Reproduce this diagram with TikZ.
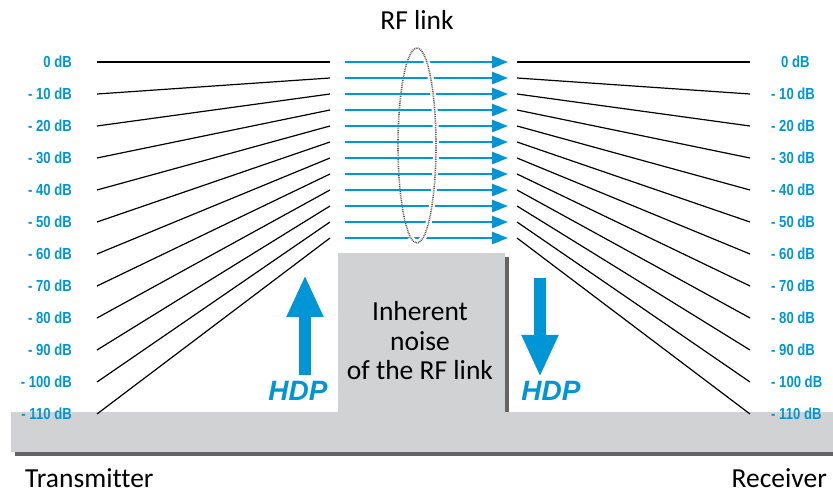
\documentclass[tikz,border=0pt]{standalone}
\usepackage{fontspec}
\setmainfont[Ligatures=NoCommon]{Carlito}
\newfontfamily\dbfont[FakeStretch=0.82]{Liberation Sans}
\newfontfamily\hdpfont{Liberation Sans}
\usetikzlibrary{arrows.meta,shadows,calc}
\definecolor{hblue}{RGB}{0,150,214}
\definecolor{boxgray}{RGB}{209,210,212}
\definecolor{shadowgray}{RGB}{100,100,102}
\definecolor{ringgray}{RGB}{90,90,90}
\tikzset{
  dblabel/.style={font=\dbfont\bfseries\fontsize{16}{16}\selectfont, text=hblue, inner sep=0pt},
  levelline/.style={line width=1.2pt, black},
  rfarrow/.style={hblue, line width=2.6pt, -{Triangle[length=16pt,width=12pt]}},
  bigarrow/.style={hblue, line width=12pt, -{Triangle[length=42pt,width=34pt]}},
  graybox/.style={fill=boxgray, draw=none, inner sep=0pt,
    drop shadow={shadow xshift=4pt, shadow yshift=-4pt, fill=shadowgray, opacity=1}},
  ring/.style={ringgray, line width=1.6pt, dash pattern=on 0.9pt off 0.9pt},
  halo/.style={white, line width=6pt},
  bigtext/.style={font=\fontsize{27.5}{29.5}\selectfont, inner sep=0pt},
  hdp/.style={font=\hdpfont\bfseries\itshape\fontsize{28}{28}\selectfont, text=hblue, inner sep=0pt},
}
\begin{document}
\begin{tikzpicture}[x=1pt,y=-1pt]
\useasboundingbox (0,0) rectangle (833,494);
% noise box and base
\node[graybox, minimum width=167pt, minimum height=159pt] (box) at (421.5,332.5) {};
\node[graybox, minimum width=824pt, minimum height=40pt] (base) at (423,432) {};
\node[bigtext, align=center] (noise) at (420,341) {Inherent\\noise\\of the RF link};
% ring back half
\draw[ring] (417,145.5) ellipse [x radius=19pt, y radius=97.5pt];
% levels
\foreach \i in {0,...,11} {
  \pgfmathsetmacro\yl{62+32*\i}
  \pgfmathsetmacro\ym{62+16*\i}
  \pgfmathtruncatemacro\v{10*\i}
  \ifnum\i=0
    \node[dblabel, anchor=east] (L\i) at (72,\yl) {0 dB};
    \node[dblabel, anchor=west] (R\i) at (781,\yl) {0 dB};
  \else
    \node[dblabel, anchor=east] (L\i) at (72,\yl) {- \v{} dB};
    \node[dblabel, anchor=west] (R\i) at (771,\yl) {- \v{} dB};
  \fi
  \coordinate (la\i) at (97,\yl);
  \coordinate (lb\i) at (330,\ym);
  \coordinate (ra\i) at (345,\ym);
  \coordinate (rb\i) at (508,\ym);
  \coordinate (sa\i) at (517,\ym);
  \coordinate (sb\i) at (750,\yl);
  \draw[levelline] (la\i) -- (lb\i);
  \draw[rfarrow] (ra\i) -- (rb\i);
  \draw[levelline] (sa\i) -- (sb\i);
}
% ring front half
\coordinate (ringstart) at ($(417,145.5)+(75:19pt and 97.5pt)$);
\draw[halo] (ringstart) arc[start angle=75, end angle=-110, x radius=19pt, y radius=97.5pt];
\draw[ring] (ringstart) arc[start angle=75, end angle=-110, x radius=19pt, y radius=97.5pt];
\node[bigtext, anchor=base] (rflink) at (417,30) {RF link};
% HDP arrows
\coordinate (ua) at (305,375);
\coordinate (ub) at (305,275);
\coordinate (da) at (540,278);
\coordinate (db) at (540,377);
\draw[bigarrow] (ua) -- (ub);
\draw[bigarrow] (da) -- (db);
\node[hdp, anchor=base] (hdpl) at (298,400) {HDP};
\node[hdp, anchor=base] (hdpr) at (551,400) {HDP};
\node[bigtext, anchor=base west] (tx) at (25,487) {Transmitter};
\node[bigtext, anchor=base east] (rx) at (827,487) {Receiver};
\end{tikzpicture}
\end{document}
